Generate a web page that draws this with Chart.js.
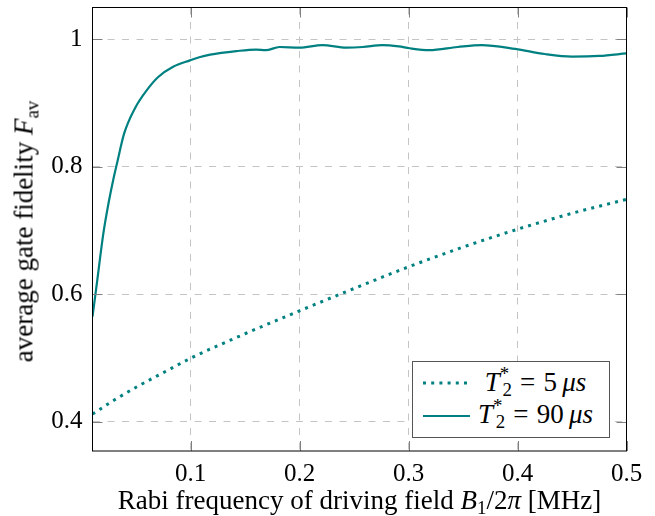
<!DOCTYPE html>
<html>
<head>
<meta charset="utf-8">
<script src="https://cdn.jsdelivr.net/npm/chart.js@4"></script>
<style>
  body { margin: 0; background: #fff; }
  #wrap { position: relative; width: 655px; height: 516px; font-family: 'Liberation Serif', serif; color: #000; }
  canvas { position: absolute; left: 0; top: 0; }
  .title { position: absolute; white-space: nowrap; text-align: center; font-size: 27px; line-height: 27px; }
  .sub { font-size: 0.7em; position: relative; top: 0.3em; }
  .sup { font-size: 0.7em; position: relative; top: -0.55em; }
  .rel { margin: 0 0.3em; }
  #legend { position: absolute; left: 411.5px; top: 360.5px; width: 198px; height: 77px; box-sizing: border-box;
            border: 1.3px solid #555; background: #fff; }
  .row { position: absolute; left: 0; width: 100%; height: 27px; }
  .row svg { position: absolute; left: 9px; top: 0; }
  .row .txt { position: absolute; left: 58px; width: 130px; text-align: center; font-size: 27px; line-height: 27px; top: 0; white-space: nowrap; }
</style>
</head>
<body>
<div id="wrap">
  <canvas id="chart" width="655" height="516"></canvas>
  <div class="title" id="xtitle" style="left:92.5px; width:534px; top:486.5px;">Rabi frequency of driving field <i>B</i><span class="sub">1</span>/2<i>π</i> [MHz]</div>
  <div class="title" id="ytitle" style="left:-174.6px; width:400px; top:216.5px; transform:rotate(-90deg);">average gate fidelity <i>F</i><span class="sub">av</span></div>
  <div id="legend">
    <div class="row" style="top:7px">
      <svg width="50" height="27"><line x1="1" y1="14" x2="48" y2="14" stroke="#008080" stroke-width="3" stroke-dasharray="3 5.2"/></svg>
      <div class="txt"><i>T</i><span class="sup">*</span><span class="sub" style="margin-left:-0.35em">2</span><span class="rel">=</span>5&thinsp;<i>μs</i></div>
    </div>
    <div class="row" style="top:39px">
      <svg width="50" height="27"><line x1="1" y1="15" x2="48" y2="15" stroke="#008080" stroke-width="2.2"/></svg>
      <div class="txt"><i>T</i><span class="sup">*</span><span class="sub" style="margin-left:-0.35em">2</span><span class="rel">=</span>90&thinsp;<i>μs</i></div>
    </div>
  </div>
</div>
<script>
// T2* = 5 us (dotted)
const xDotted = [0.01, 0.03, 0.05, 0.075, 0.1, 0.15, 0.2, 0.25, 0.3, 0.35, 0.4, 0.45, 0.5];
const yDotted = [0.412, 0.434, 0.454, 0.477, 0.4995, 0.538, 0.574, 0.609, 0.643, 0.674, 0.702, 0.727, 0.749];

// T2* = 90 us (solid)
const xSolid = [0.01, 0.014, 0.020, 0.0246, 0.0292, 0.0323, 0.039, 0.049, 0.0597, 0.0703, 0.084, 0.0995, 0.108,
  0.118, 0.142, 0.160, 0.169, 0.1816, 0.2, 0.221, 0.243, 0.258, 0.276, 0.291, 0.301, 0.319, 0.345, 0.367,
  0.398, 0.425, 0.450, 0.475, 0.5];
const ySolid = [0.565, 0.617, 0.696, 0.742, 0.781, 0.804, 0.852, 0.892, 0.920, 0.941, 0.957, 0.967, 0.972,
  0.976, 0.9815, 0.984, 0.983, 0.988, 0.987, 0.991, 0.987, 0.988, 0.991, 0.989, 0.986, 0.983, 0.988, 0.991,
  0.985, 0.977, 0.973, 0.974, 0.978];

const xTicks = [0.1, 0.2, 0.3, 0.4, 0.5];
const xTickLabels = ['0.1', '0.2', '0.3', '0.4', '0.5'];
const yTicks = [0.4, 0.6, 0.8, 1.0];
const yTickLabels = ['0.4', '0.6', '0.8', '1'];

const teal = '#008080';
const tickFont = { family: "'Liberation Serif', serif", size: 25 };

const toPoints = (xs, ys) => xs.map((x, i) => ({ x, y: ys[i] }));

// frame + inward tick marks like pgfplots
const framePlugin = {
  id: 'frame',
  afterDraw(chart) {
    const { ctx, chartArea: a, scales } = chart;
    ctx.save();
    ctx.strokeStyle = '#808080';
    ctx.lineWidth = 1;
    ctx.beginPath();
    xTicks.forEach(v => {
      const px = Math.round(scales.x.getPixelForValue(v)) + 0.5;
      ctx.moveTo(px, a.bottom); ctx.lineTo(px, a.bottom - 10);
      ctx.moveTo(px, a.top); ctx.lineTo(px, a.top + 10);
    });
    yTicks.forEach(v => {
      const py = Math.round(scales.y.getPixelForValue(v)) + 0.5;
      ctx.moveTo(a.left, py); ctx.lineTo(a.left + 10, py);
      ctx.moveTo(a.right, py); ctx.lineTo(a.right - 10, py);
    });
    ctx.stroke();
    ctx.strokeStyle = '#000';
    ctx.strokeRect(a.left, a.top, a.right - a.left, a.bottom - a.top);
    ctx.restore();
  }
};

new Chart(document.getElementById('chart'), {
  type: 'line',
  data: {
    datasets: [
      {
        label: 'T2* = 5 us',
        data: toPoints(xDotted, yDotted),
        borderColor: teal,
        borderWidth: 3,
        borderDash: [3, 5.2],
        borderCapStyle: 'butt',
        pointRadius: 0,
        cubicInterpolationMode: 'monotone',
        fill: false,
      },
      {
        label: 'T2* = 90 us',
        data: toPoints(xSolid, ySolid),
        borderColor: teal,
        borderWidth: 2.2,
        pointRadius: 0,
        cubicInterpolationMode: 'monotone',
        fill: false,
      }
    ]
  },
  options: {
    responsive: false,
    animation: false,
    layout: { padding: { left: 0, right: 28.5, top: 7.5, bottom: 0 } },
    plugins: { legend: { display: false }, tooltip: { enabled: false } },
    scales: {
      x: {
        type: 'linear',
        min: 0.01,
        max: 0.5,
        afterBuildTicks: (s) => { s.ticks = xTicks.map(v => ({ value: v })); },
        afterFit: (s) => { s.height = 65; s.paddingLeft = 0; s.paddingRight = 0; },
        grid: { color: '#c4c4c4', lineWidth: 1, drawTicks: false },
        border: { display: false, dash: [7, 7.5] },
        ticks: {
          font: tickFont,
          color: '#000',
          padding: 8,
          maxRotation: 0,
          autoSkip: false,
          callback: (v) => xTickLabels[xTicks.indexOf(v)],
        }
      },
      y: {
        type: 'linear',
        min: 0.354,
        max: 1.05,
        afterBuildTicks: (s) => { s.ticks = yTicks.map(v => ({ value: v })); },
        afterFit: (s) => { s.width = 92.5; s.paddingTop = 0; s.paddingBottom = 0; },
        grid: { color: '#c4c4c4', lineWidth: 1, drawTicks: false },
        border: { display: false, dash: [7, 7.5] },
        ticks: {
          font: tickFont,
          color: '#000',
          padding: 10,
          autoSkip: false,
          callback: (v) => yTickLabels[yTicks.indexOf(v)],
        }
      }
    }
  },
  plugins: [framePlugin]
});
</script>
</body>
</html>
